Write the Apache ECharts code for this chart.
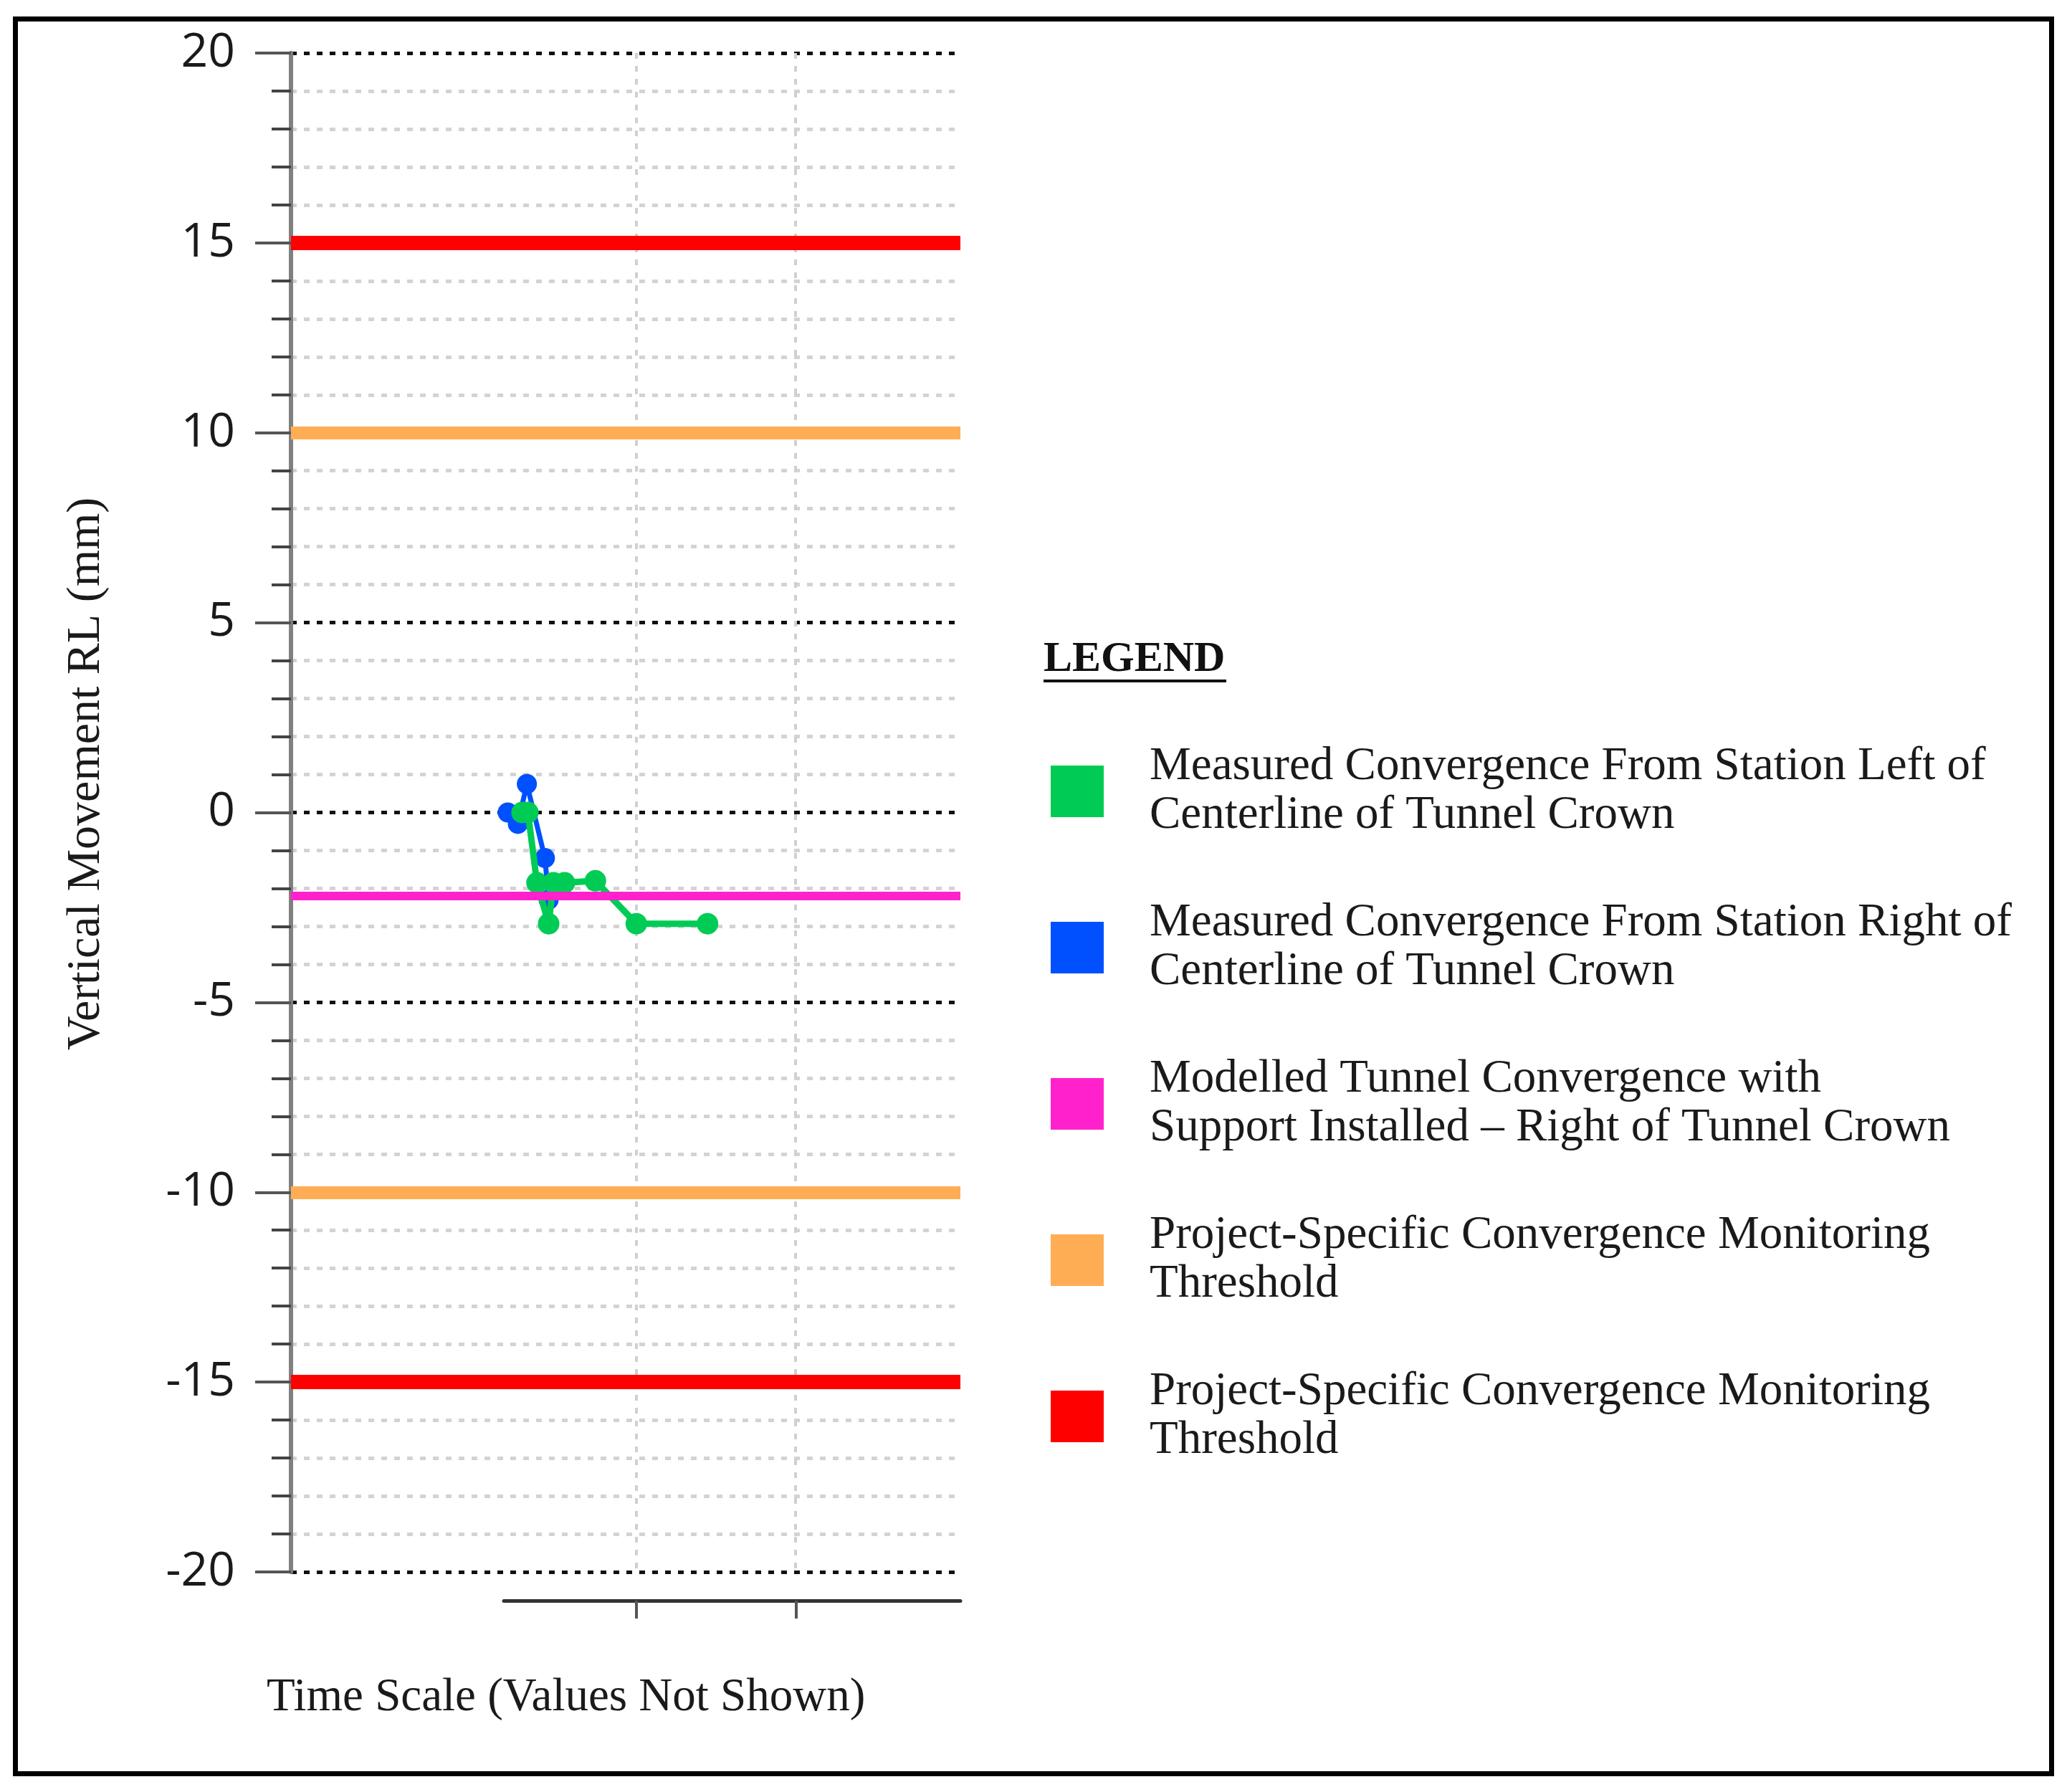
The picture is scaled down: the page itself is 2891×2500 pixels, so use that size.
<!DOCTYPE html>
<html>
<head>
<meta charset="utf-8">
<script src="https://cdn.jsdelivr.net/npm/echarts@6/dist/echarts.min.js"></script>
<style>
  html, body { margin: 0; padding: 0; background: #fff; }
  #chart { width: 2891px; height: 2500px; }
</style>
</head>
<body>
<div id="chart"></div>
<script>
// time values are not shown in the source, so x is in arbitrary units (days)
const leftTime = [43.5, 44.6, 46.3, 48.5, 49.4, 51.5, 57.3, 65.0, 78.4]
const leftMove = [0, 0, -1.85, -2.93, -1.85, -1.85, -1.8, -2.93, -2.93]
const rightTime = [40.8, 42.7, 44.4, 47.8, 48.5]
const rightMove = [0, -0.3, 0.75, -1.2, -2.3]
const modelledLevel = [-2.2]
const amberLimits = [10, -10]
const redLimits = [15, -15]
const timeRange = [0, 126]
const shownTimeRange = [40, 126]
const timeGridValues = [65, 95]
const moveRange = [-20, 20]
const moveStep = 5

const seriesKeys = ['left', 'right', 'model', 'amber', 'red']
const legendLabels = {
  left: 'Measured Convergence From Station Left of\nCenterline of Tunnel Crown',
  right: 'Measured Convergence From Station Right of\nCenterline of Tunnel Crown',
  model: 'Modelled Tunnel Convergence with\nSupport Installed \u2013 Right of Tunnel Crown',
  amber: 'Project-Specific Convergence Monitoring\nThreshold',
  red: 'Project-Specific Convergence Monitoring\nThreshold'
}
const colors = {
  left: '#00CC55',
  right: '#0050FF',
  model: '#FF22CC',
  amber: '#FFAD55',
  red: '#FF0000'
}

const serif = "'Liberation Serif', 'Times New Roman', serif"
const sans = "'Open Sans', 'Noto Sans', sans-serif"

function pairs (xs, ys) {
  return xs.map((x, i) => [x, ys[i]])
}

function limitSeries (key, levels, width, z) {
  return {
    name: key,
    type: 'line',
    xAxisIndex: 0,
    yAxisIndex: 0,
    data: [],
    color: colors[key],
    z: z,
    markLine: {
      silent: true,
      symbol: ['none', 'none'],
      label: { show: false },
      z: z,
      lineStyle: { color: colors[key], width: width, type: 'solid' },
      data: levels.map(v => ({ yAxis: v }))
    }
  }
}

const chart = echarts.init(document.getElementById('chart'), null, { renderer: 'canvas' })

const option = {
  backgroundColor: '#fff',
  animation: false,
  grid: [
    { left: 406, right: 1551, top: 74, bottom: 307 },
    { left: 703, right: 1551, top: 2232, height: 1 }
  ],
  title: [{
    text: 'Time Scale (Values Not Shown)',
    left: 372,
    top: 2336,
    padding: 0,
    textStyle: { fontFamily: serif, fontSize: 65, fontWeight: 'normal', color: '#1a1a1a' }
  }],
  xAxis: [{
    gridIndex: 0,
    type: 'value',
    min: timeRange[0],
    max: timeRange[1],
    axisLine: { show: false },
    axisTick: { show: false, customValues: timeGridValues },
    axisLabel: { show: false },
    splitLine: { show: true, lineStyle: { color: '#d0d0d0', width: 4, type: [8, 10] } }
  }, {
    gridIndex: 1,
    type: 'value',
    position: 'bottom',
    min: shownTimeRange[0],
    max: shownTimeRange[1],
    axisLine: { show: true, onZero: false, lineStyle: { color: '#333', width: 5 } },
    axisTick: { show: true, customValues: timeGridValues, length: 25, lineStyle: { color: '#555', width: 4 } },
    axisLabel: { show: false },
    splitLine: { show: false }
  }],
  yAxis: [{
    gridIndex: 0,
    type: 'value',
    min: moveRange[0],
    max: moveRange[1],
    interval: moveStep,
    name: 'Vertical Movement RL (mm)',
    nameLocation: 'middle',
    nameRotate: 90,
    nameGap: 252,
    nameTextStyle: { fontFamily: serif, fontSize: 66, color: '#1a1a1a', padding: [0, 0, 0, 108] },
    axisLine: { show: true, onZero: false, lineStyle: { color: '#808080', width: 6 } },
    axisTick: { show: true, length: 50, lineStyle: { color: '#555', width: 4 } },
    minorTick: { show: true, splitNumber: 5, length: 27, lineStyle: { color: '#444', width: 4 } },
    axisLabel: { margin: 78, fontFamily: sans, fontSize: 66, color: '#1a1a1a' },
    splitLine: { show: true, lineStyle: { color: '#111', width: 5, type: [8, 10] } },
    minorSplitLine: { show: true, lineStyle: { color: '#d3d3d3', width: 5, type: [8, 10] } }
  }, {
    gridIndex: 1,
    type: 'value',
    min: 0,
    max: 1,
    show: false
  }],
  legend: {
    orient: 'vertical',
    left: 1466,
    top: 1036,
    padding: 0,
    itemWidth: 74,
    itemHeight: 72,
    itemGap: 82,
    icon: 'rect',
    selectedMode: false,
    data: seriesKeys,
    formatter: name => legendLabels[name],
    textStyle: {
      fontFamily: serif,
      fontSize: 65,
      lineHeight: 68,
      color: '#1a1a1a',
      padding: [0, 0, 0, 59]
    }
  },
  graphic: [{
    type: 'rect',
    silent: true,
    shape: { x: 21.5, y: 26.5, width: 2841, height: 2448 },
    style: { fill: 'none', stroke: '#000', lineWidth: 7 }
  }, {
    type: 'text',
    silent: true,
    x: 1456,
    y: 920,
    style: {
      text: 'LEGEND',
      fontFamily: serif,
      fontSize: 60,
      fontWeight: 'bold',
      fill: '#111',
      verticalAlign: 'middle'
    }
  }, {
    type: 'line',
    silent: true,
    shape: { x1: 1456, y1: 950, x2: 1711, y2: 950 },
    style: { stroke: '#111', lineWidth: 4 }
  }],
  series: [
    limitSeries('red', redLimits, 20, 3),
    limitSeries('amber', amberLimits, 18, 3),
    {
      name: 'right',
      type: 'line',
      data: pairs(rightTime, rightMove),
      color: colors.right,
      symbol: 'circle',
      symbolSize: 28,
      lineStyle: { width: 7 },
      z: 4
    },
    {
      name: 'left',
      type: 'line',
      data: pairs(leftTime, leftMove),
      color: colors.left,
      symbol: 'circle',
      symbolSize: 30,
      lineStyle: { width: 9 },
      z: 5
    },
    limitSeries('model', modelledLevel, 12, 10)
  ]
}

chart.setOption(option)
</script>
</body>
</html>
